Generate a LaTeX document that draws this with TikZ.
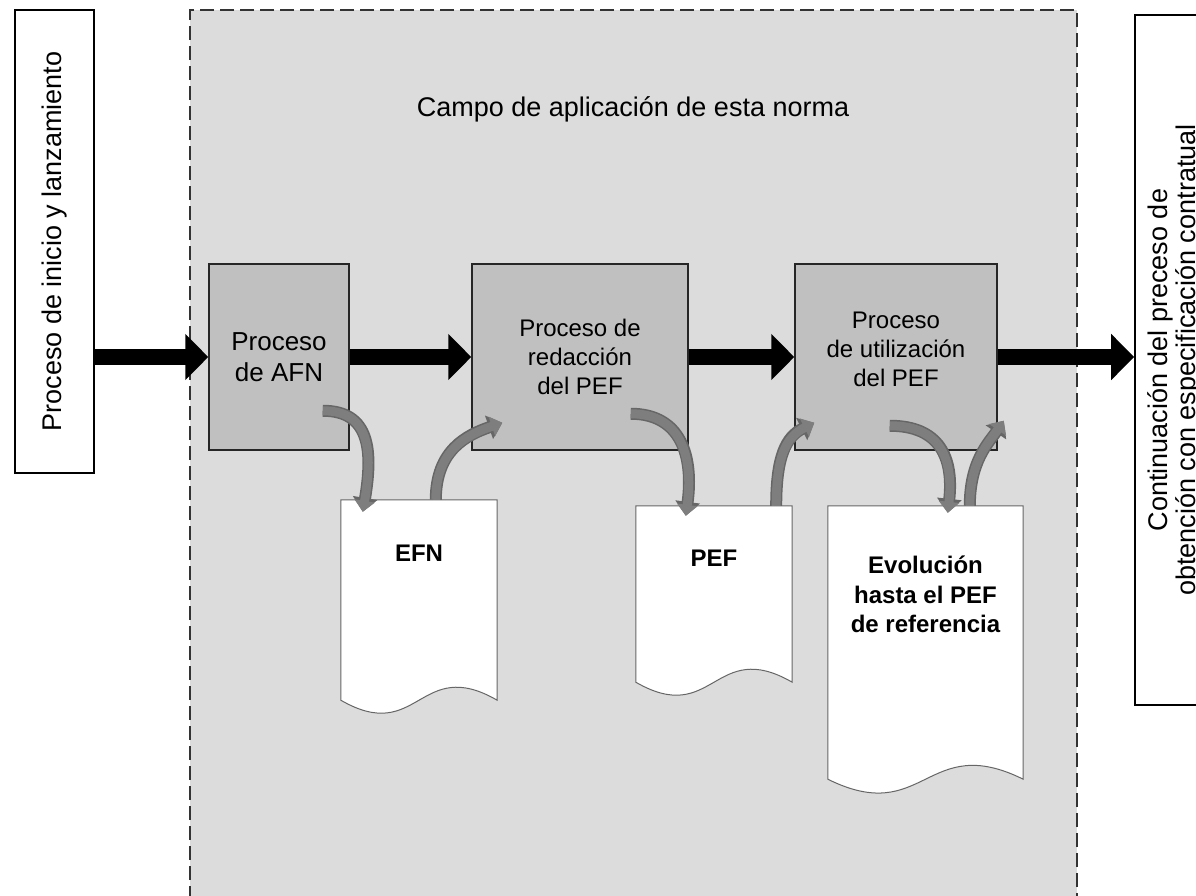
\documentclass[tikz,border=0pt]{standalone}
\usepackage{fontspec}
\setmainfont{Liberation Sans}
\usetikzlibrary{arrows.meta}
\definecolor{campocolor}{HTML}{DCDCDC}
\definecolor{procesocolor}{HTML}{C0C0C0}
\definecolor{flechacolor}{HTML}{7E7E7E}

\begin{document}
\begin{tikzpicture}[x=1pt, y=-1pt,
  lateral/.style={draw, line width=1.8pt, fill=white, rotate=90, align=center, inner sep=0pt, font=\fontsize{27pt}{28pt}\selectfont},
  proceso/.style={draw=black!85, line width=1.5pt, fill=procesocolor, align=center, inner sep=0pt, minimum height=186pt},
  hoja/.style={inner sep=0pt},
  hojaborde/.style={draw=black!60, line width=1pt, fill=white},
  hojatexto/.style={anchor=north, align=center, inner sep=0pt, font=\fontsize{24pt}{29.5pt}\selectfont\bfseries},
  grande/.style={line width=16pt, -{Triangle[width=45pt,length=23pt]}},
  curva/.style={preaction={draw=black!60, line width=12pt, -{Triangle[width=24pt,length=14pt]}},
    line width=9pt, draw=flechacolor, -{Triangle[width=20pt,length=11pt]}}]
\useasboundingbox (0,0) rectangle (1196,895);
\clip (0,0) rectangle (1196,895);
\fill[white] (0,0) rectangle (1196,895);
% campo de aplicacion
\node[draw=black!80, line width=2pt, dash pattern=on 14pt off 6pt, fill=campocolor, minimum width=887pt, minimum height=930pt, inner sep=0pt] (campo) at (633.5,475) {};
\node[font=\fontsize{27pt}{32pt}\selectfont, anchor=base] (titulo) at (633,116) {Campo de aplicación de esta norma};
% cajas laterales
\node[lateral, minimum width=463pt, minimum height=79pt] (inicio) at (54.5,241.5) {Proceso de inicio y lanzamiento};
\node[lateral, minimum width=690pt, minimum height=79pt] (continuacion) at (1174.5,360) {Continuación del preceso de\\obtención con especificación contratual};
% procesos
\node[proceso, minimum width=140pt, font=\fontsize{26pt}{31pt}\selectfont] (afn) at (279,357) {Proceso\\de AFN};
\node[proceso, minimum width=216pt, font=\fontsize{24pt}{29pt}\selectfont] (redaccion) at (580,357) {Proceso de\\redacción\\del PEF};
\node[proceso, minimum width=202pt, font=\fontsize{24pt}{29pt}\selectfont] (utilizacion) at (896,357) {Proceso\\de utilización\\del PEF\\[-14pt]};
% documentos
\node[hoja, minimum width=156pt, minimum height=200pt] (efn) at (419,600) {};
\draw[hojaborde] (efn.north west) -- (efn.north east) -- (efn.south east) .. controls +(-78,-45) and +(78,45) .. (efn.south west) -- cycle;
\node[hojatexto] (efn-t) at ([shift={(0,45)}]efn.north) {EFN};
\node[hoja, minimum width=156pt, minimum height=176pt] (pef) at (714,594) {};
\draw[hojaborde] (pef.north west) -- (pef.north east) -- (pef.south east) .. controls +(-78,-45) and +(78,45) .. (pef.south west) -- cycle;
\node[hojatexto] (pef-t) at ([shift={(0,44)}]pef.north) {PEF};
\node[hoja, minimum width=195pt, minimum height=273pt] (evol) at (925.5,642.5) {};
\draw[hojaborde] (evol.north west) -- (evol.north east) -- (evol.south east) .. controls +(-97,-48) and +(97,48) .. (evol.south west) -- cycle;
\node[hojatexto] (evol-t) at ([shift={(0,50)}]evol.north) {Evolución\\hasta el PEF\\de referencia};
% flechas negras
\draw[grande] (inicio.south |- afn.west) -- (afn.west);
\draw[grande] (afn) -- (redaccion);
\draw[grande] (redaccion) -- (utilizacion);
\draw[grande] (utilizacion.east) -- (continuacion.north |- utilizacion.east);
% flechas grises
\draw[curva] ([shift={(-27,-40)}]afn.south east) .. controls +(48,0) and +(10,-60) .. ([shift={(22,12)}]efn.north west);
\draw[curva] ([shift={(95,0)}]efn.north west) .. controls +(0,-50) and +(-35,12) .. ([shift={(31,-28)}]redaccion.south west);
\draw[curva] ([shift={(-58,-37)}]redaccion.south east) .. controls +(50,0) and +(8,-60) .. ([shift={(50,10)}]pef.north west);
\draw[curva] ([shift={(-16,0)}]pef.north east) .. controls +(0,-50) and +(-28,14) .. ([shift={(20,-28)}]utilizacion.south west);
\draw[curva] ([shift={(-108,-25)}]utilizacion.south east) .. controls +(50,0) and +(6,-55) .. ([shift={(120,7)}]evol.north west);
\draw[curva] ([shift={(142,0)}]evol.north west) .. controls +(0,-45) and +(-15,22) .. ([shift={(6,-30)}]utilizacion.south east);
\end{tikzpicture}
\end{document}
